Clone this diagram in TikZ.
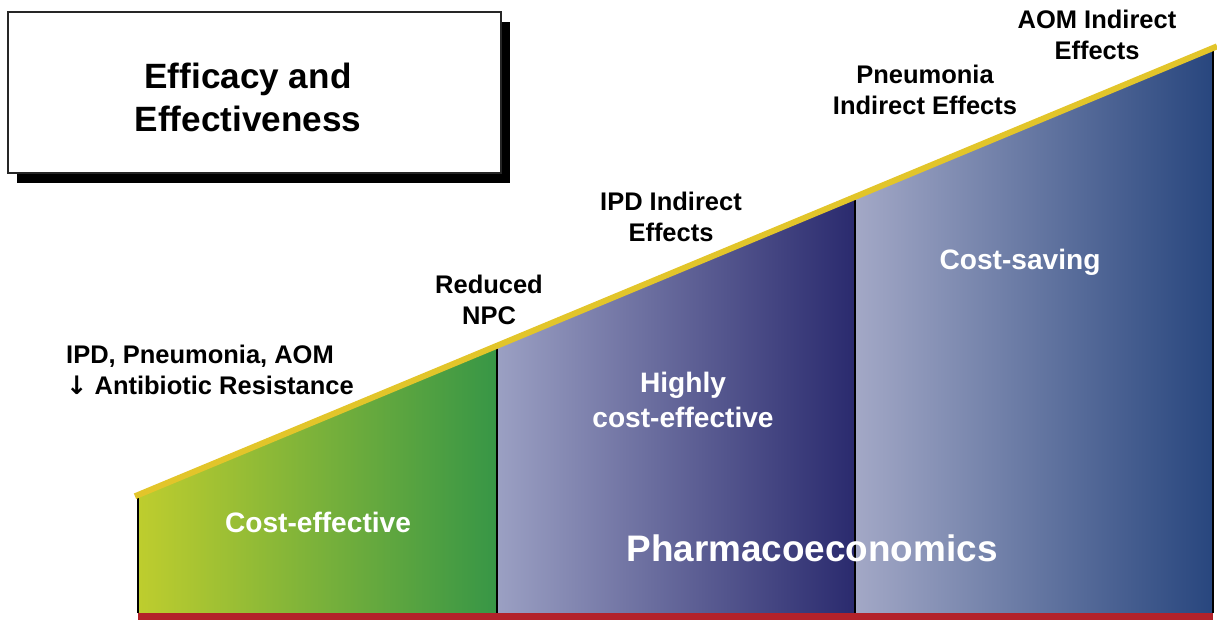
\documentclass[tikz,border=0pt]{standalone}
\usepackage{fontspec}
\setmainfont{Liberation Sans}
\newfontfamily\arrowfont{DejaVu Sans}
\usepackage{xcolor}
\usepackage{tikz}
\usetikzlibrary{positioning}
\definecolor{ylw}{HTML}{E2C52A}
\definecolor{rbar}{HTML}{B3222A}
\definecolor{grnA}{HTML}{BECD2E}
\definecolor{grnB}{HTML}{379646}
\definecolor{lavA}{HTML}{9BA0C3}
\definecolor{lavB}{HTML}{2A2A6E}
\definecolor{bluA}{HTML}{A3A8C6}
\definecolor{bluB}{HTML}{28467E}

\begin{document}
\begin{tikzpicture}[font=\bfseries]
\useasboundingbox (0,0) rectangle (24.34,12.4);

% title box with its drop shadow
\fill[black] (0.34,8.74) rectangle (10.2,11.96);
\draw[black!85,fill=white,line width=0.8pt] (0.16,8.94) rectangle (10.02,12.16);
\node[align=center,font=\fontsize{20}{24.5}\selectfont\bfseries] (title) at (4.96,10.46) {Efficacy and\\Effectiveness};

% shaded bands under the slope
\shade[left color=grnA,right color=grnB] (2.76,0.14) -- (2.76,2.5) -- (9.94,5.485) -- (9.94,0.14) -- cycle;
\shade[left color=lavA,right color=lavB] (9.94,0.14) -- (9.94,5.485) -- (17.1,8.463) -- (17.1,0.14) -- cycle;
\shade[left color=bluA,right color=bluB] (17.1,0.14) -- (17.1,8.463) -- (24.26,11.44) -- (24.26,0.14) -- cycle;

\draw[line width=1.2pt] (2.76,0.14) -- (2.76,2.5);
\draw[line width=1.2pt] (9.94,0.14) -- (9.94,5.485);
\draw[line width=1.2pt] (17.1,0.14) -- (17.1,8.463);
\draw[line width=1.2pt] (24.26,0.14) -- (24.26,11.44);

% slope and base
\draw[ylw,line width=3.4pt] (2.7,2.475) -- (24.34,11.473);
\draw[rbar,line width=4pt] (2.76,0.07) -- (24.26,0.07);

% band labels
\node[white,font=\fontsize{16}{20}\selectfont\bfseries] (ce) at (6.36,1.96) {Cost-effective};
\node[white,align=center,font=\fontsize{16}{20}\selectfont\bfseries] (hce) at (13.66,4.4) {Highly\\cost-effective};
\node[white,font=\fontsize{16}{20}\selectfont\bfseries] (cs) at (20.4,7.16) {Cost-saving};
\node[white,font=\fontsize{21}{25}\selectfont\bfseries] (pe) at (16.24,1.44) {Pharmacoeconomics};

% labels above the slope
\node[align=left,anchor=west,font=\fontsize{14.5}{17.6}\selectfont\bfseries] (ipd) at (1.2,5.0) {IPD, Pneumonia, AOM\\{\arrowfont\bfseries ↓} Antibiotic Resistance};
\node[align=center,font=\fontsize{14.5}{17.6}\selectfont\bfseries] (npc) at (9.78,6.4) {Reduced\\NPC};
\node[align=center,font=\fontsize{14.5}{17.6}\selectfont\bfseries] (ipdind) at (13.42,8.06) {IPD Indirect\\Effects};
\node[align=center,font=\fontsize{14.5}{17.6}\selectfont\bfseries] (pnind) at (18.5,10.6) {Pneumonia\\Indirect Effects};
\node[align=center,font=\fontsize{14.5}{17.6}\selectfont\bfseries] (aomind) at (21.94,11.7) {AOM Indirect\\Effects};
\end{tikzpicture}
\end{document}
